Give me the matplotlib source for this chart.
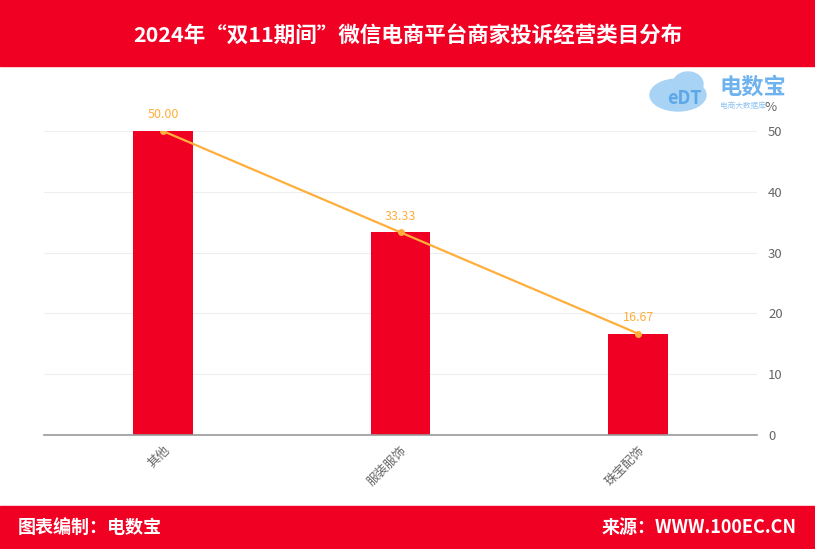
import matplotlib.pyplot as plt
from matplotlib.patches import Rectangle, Ellipse

plt.rcParams['font.family'] = ['Noto Sans CJK SC', 'DejaVu Sans']

categories = ["其他", "服装服饰", "珠宝配饰"]
values = [50.00, 33.33, 16.67]

red = "#F00023"
orange = "#FFAE3B"

fig = plt.figure(figsize=(8.15, 5.49), dpi=100)

# header / footer bands
fig.patches.append(Rectangle((0, 1 - 66 / 549), 1, 66 / 549, transform=fig.transFigure,
                             color=red, zorder=0))
fig.patches.append(Rectangle((0, 0), 1, 43 / 549, transform=fig.transFigure,
                             color=red, zorder=0))
fig.text(0.5, 1 - 35 / 549, "2024年“双11期间”微信电商平台商家投诉经营类目分布",
         color="white", fontsize=15.5, fontweight="bold", ha="center", va="center")
fig.text(18 / 815, 22 / 549, "图表编制：电数宝", color="white", fontsize=13,
         fontweight="bold", ha="left", va="center")
fig.text(797 / 815, 22 / 549, "来源：WWW.100EC.CN", color="white", fontsize=13,
         fontweight="bold", ha="right", va="center")

# logo (simplified)
fig.patches.append(Ellipse((678 / 815, 1 - 95 / 549), 56 / 815, 32 / 549,
                           transform=fig.transFigure, color="#A9D3F5", zorder=1))
fig.patches.append(Ellipse((688 / 815, 1 - 84 / 549), 30 / 815, 24 / 549,
                           transform=fig.transFigure, color="#A9D3F5", zorder=1))
fig.text(684 / 815, 1 - 99 / 549, "eDT", color="#5BA7E8", fontsize=13,
         fontweight="bold", ha="center", va="center", zorder=2)
fig.text(719 / 815, 1 - 87 / 549, "电数宝", color="#6FB3EE", fontsize=16,
         fontweight="bold", ha="left", va="center")
fig.text(720 / 815, 1 - 106 / 549, "电商大数据库", color="#8CC3F0", fontsize=5.5,
         ha="left", va="center")

ax = fig.add_axes([44 / 815, 1 - 435 / 549, (757 - 44) / 815, (435 - 131) / 549])
x = range(len(categories))
ax.bar(x, values, width=0.25, color=red, zorder=2)
ax.plot(x, values, color=orange, linewidth=1.6, marker="o", markersize=4,
        markerfacecolor=orange, zorder=3)
for i, v in zip(x, values):
    ax.annotate(f"{v:.2f}", (i, v), xytext=(0, 7), textcoords="offset points",
                ha="center", va="bottom", color=orange, fontsize=9)

ax.set_xlim(-0.5, 2.5)
ax.set_ylim(0, 50)
ax.set_yticks([0, 10, 20, 30, 40, 50])
ax.yaxis.tick_right()
ax.tick_params(axis="y", length=0, labelsize=9.5, labelcolor="#666666", pad=8)
ax.set_xticks(list(x))
ax.set_xticklabels(categories, rotation=45, ha="right", rotation_mode="anchor",
                   fontsize=9, color="#666666")
ax.tick_params(axis="x", length=0, pad=6)
ax.grid(axis="y", color="#EEEEEE", linewidth=0.8, zorder=0)
for s in ["top", "right", "left"]:
    ax.spines[s].set_visible(False)
ax.spines["bottom"].set_color("#999999")
ax.spines["bottom"].set_linewidth(1.2)
fig.text(771 / 815, 1 - 107 / 549, "%", color="#666666", fontsize=9.5,
         ha="center", va="center")

plt.savefig("out.png", dpi=100)
